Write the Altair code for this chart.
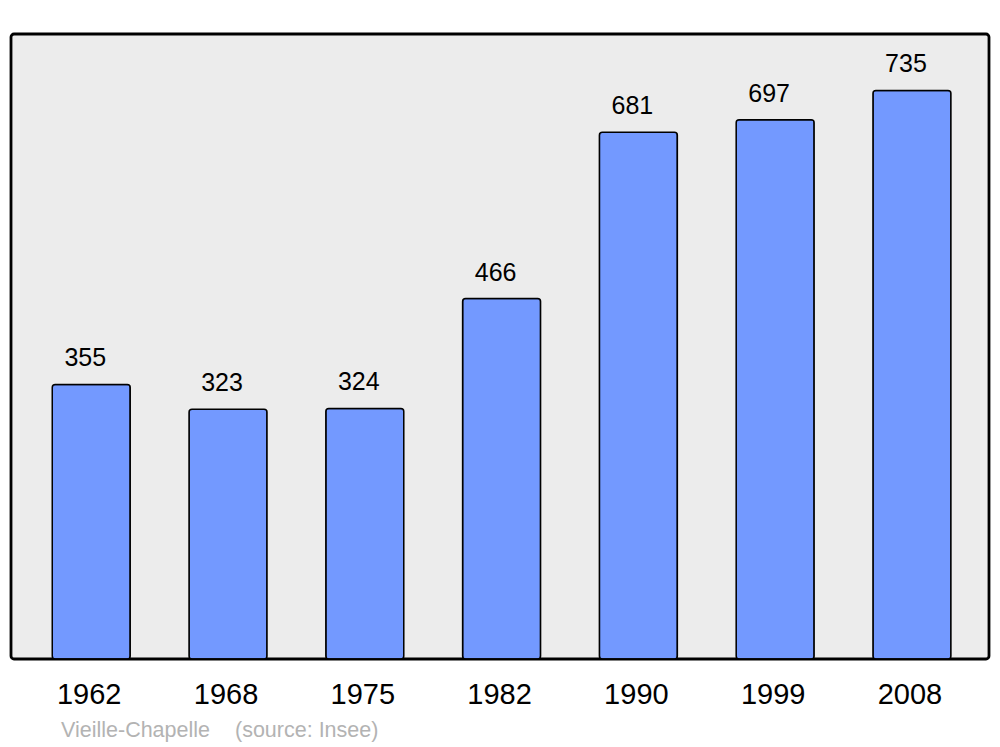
import altair as alt
import pandas as pd

years = ["1962", "1968", "1975", "1982", "1990", "1999", "2008"]
population = [355, 323, 324, 466, 681, 697, 735]
place = "Vieille-Chapelle"
source = "(source: Insee)"

df = pd.DataFrame({"year": years, "pop": population})

FONT = "Liberation Sans"

x = alt.X("year:N", sort=years, title=None,
          scale=alt.Scale(paddingInner=0.43, paddingOuter=0.29, align=0.52),
          axis=alt.Axis(domain=False, ticks=False, labelFontSize=29, labelFont=FONT,
                        labelColor="#000000", labelPadding=21, labelAngle=0,
                        labelOffset=-2, grid=False))
y = alt.Y("pop:Q", title=None, scale=alt.Scale(domain=[0, 808], nice=False),
          axis=None)

bars = alt.Chart(df).mark_bar(
    color="#7399ff", stroke="#000000", strokeWidth=1.5, cornerRadius=3
).encode(x=x, y=y)

labels = alt.Chart(df).mark_text(
    font=FONT, fontSize=25, color="#000000", baseline="alphabetic", dy=-18, dx=-6
).encode(x=x, y=y, text="pop:Q")

src = pd.DataFrame({"t": [place, source], "px": [50, 224]})
foot = alt.Chart(src).mark_text(
    font=FONT, fontSize=21.5, color="#b3b3b3", align="left", baseline="alphabetic"
).encode(x=alt.X("px:Q", scale=None), y=alt.value(703), text="t:N")

chart = alt.layer(bars, labels, foot).properties(
    width=978, height=625,
    background="#ffffff",
    autosize=alt.AutoSizeParams(type="none"),
    padding={"left": 3, "top": 26, "right": 3, "bottom": 88},
).configure_view(
    fill="#ececec", stroke="#000000", strokeWidth=2.8, cornerRadius=3
)

chart.save("out.html", embed_options={"renderer": "svg", "actions": False})
